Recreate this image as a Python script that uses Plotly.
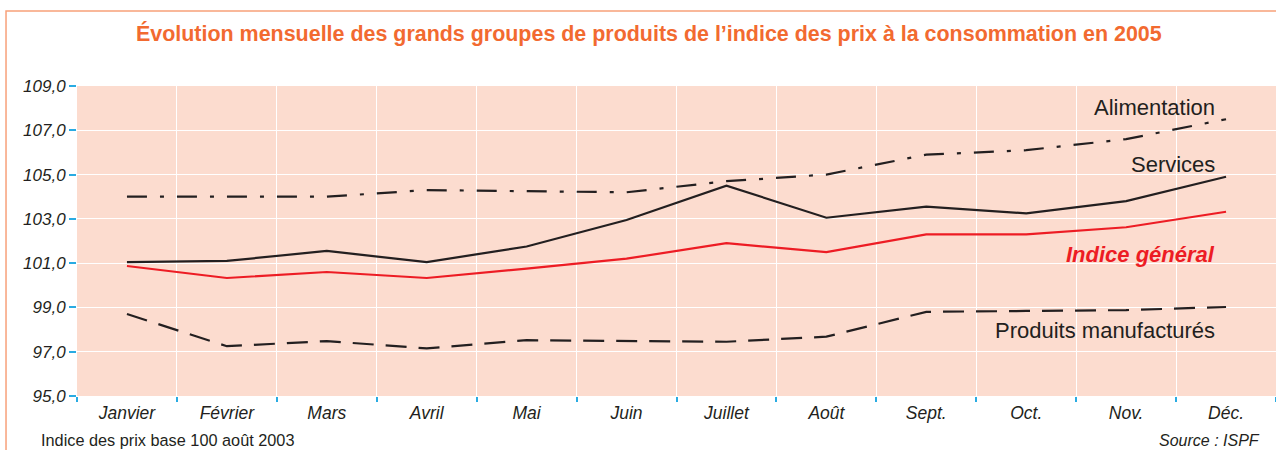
import plotly.graph_objects as go

months = ["Janvier", "Février", "Mars", "Avril", "Mai", "Juin", "Juillet",
          "Août", "Sept.", "Oct.", "Nov.", "Déc."]
alimentation = [104.0, 104.0, 104.0, 104.3, 104.25, 104.2, 104.7, 105.0, 105.9, 106.1, 106.6, 107.5]
services = [101.05, 101.1, 101.55, 101.05, 101.75, 102.95, 104.5, 103.05, 103.55, 103.25, 103.8, 104.9]
indice_general = [100.87, 100.33, 100.6, 100.33, 100.75, 101.2, 101.9, 101.5, 102.3, 102.3, 102.62, 103.32]
produits_manuf = [98.7, 97.25, 97.48, 97.15, 97.52, 97.47, 97.45, 97.68, 98.8, 98.84, 98.88, 99.02]

y_ticks = [95, 97, 99, 101, 103, 105, 107, 109]

BLACK = "#231f20"
RED = "#ed1c24"
ORANGE = "#f26a30"
BLUE = "#29abe2"
FONT = "Liberation Sans, Arial, sans-serif"

fig = go.Figure()
fig.add_trace(go.Scatter(x=months, y=alimentation, mode="lines",
                         line=dict(color=BLACK, width=2.2, dash="20px,13px,4px,13px"),
                         name="Alimentation"))
fig.add_trace(go.Scatter(x=months, y=services, mode="lines",
                         line=dict(color=BLACK, width=2.2), name="Services"))
fig.add_trace(go.Scatter(x=months, y=indice_general, mode="lines",
                         line=dict(color=RED, width=2.2), name="Indice général"))
fig.add_trace(go.Scatter(x=months, y=produits_manuf, mode="lines",
                         line=dict(color=BLACK, width=2.2, dash="21px,12px"),
                         name="Produits manufacturés"))

fig.update_layout(
    width=1276, height=450,
    margin=dict(l=77, r=0, t=86, b=54),
    paper_bgcolor="white",
    plot_bgcolor="#fcdccf",
    showlegend=False,
    separators=", ",
    font=dict(family=FONT, color=BLACK),
)
fig.update_xaxes(
    type="category", tickson="boundaries", range=[-0.5, 11.5],
    showgrid=True, gridcolor="white", gridwidth=1.2,
    ticks="outside", ticklen=5, tickcolor=BLUE, tickwidth=1.5,
    ticklabelstandoff=4,
    tickfont=dict(size=17.5, family=FONT, color=BLACK, style="italic"),
    showline=False, zeroline=False,
)
fig.update_yaxes(
    range=[95, 109], tickvals=y_ticks, tickformat=".1f",
    showgrid=True, gridcolor="white", gridwidth=1.2,
    ticks="outside", ticklen=7, tickcolor=BLUE, tickwidth=1.5,
    tickfont=dict(size=17, family=FONT, color=BLACK, style="italic"),
    showline=False, zeroline=False,
)

# frame
fig.add_shape(type="rect", xref="paper", yref="paper",
              x0=-0.0592, x1=1.02, y0=-0.4, y1=1.242,
              line=dict(color="#f7a17a", width=1.5), layer="below")

fig.add_annotation(text="<b>Évolution mensuelle des grands groupes de produits de l’indice des prix à la consommation en 2005</b>",
                   xref="paper", yref="paper", x=0.477, y=1.168, showarrow=False,
                   font=dict(size=21.45, color=ORANGE, family=FONT), xanchor="center", yanchor="middle")

labels = [("Alimentation", 0.9505, 0.932, BLACK),
          ("Services", 0.9505, 0.748, BLACK),
          ("<b><i>Indice général</i></b>", 0.9505, 0.458, RED),
          ("Produits manufacturés", 0.951, 0.21, BLACK)]
for txt, x, y, c in labels:
    fig.add_annotation(text=txt, xref="paper", yref="paper", x=x, y=y, showarrow=False,
                       font=dict(size=22, color=c, family=FONT), xanchor="right", yanchor="middle")

fig.add_annotation(text="Indice des prix base 100 août 2003", xref="paper", yref="paper",
                   x=-0.032, y=-0.142, showarrow=False, xanchor="left", yanchor="middle",
                   font=dict(size=16.3, color=BLACK, family=FONT))
fig.add_annotation(text="<i>Source : ISPF</i>", xref="paper", yref="paper",
                   x=0.9885, y=-0.142, showarrow=False, xanchor="right", yanchor="middle",
                   font=dict(size=16, color=BLACK, family=FONT))

fig.write_html("out.html", config={"displayModeBar": False},
               post_script="document.body.style.margin='0';document.body.style.overflow='hidden';")
